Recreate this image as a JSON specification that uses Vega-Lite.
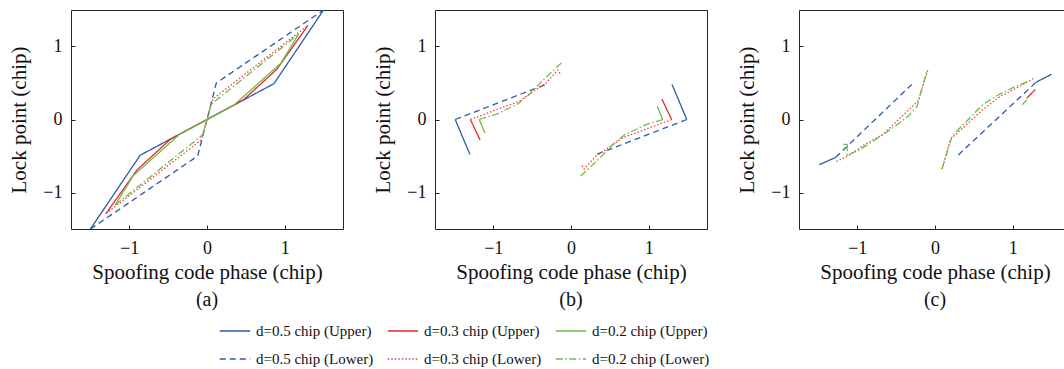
{
  "$schema": "https://vega.github.io/schema/vega-lite/v6.json",
  "padding": {"left": 8, "top": 9, "right": 0, "bottom": 0},
  "background": "white",
  "datasets": {
    "curves": [
      {"p":"a","s":"d=0.5 chip (Upper)","k":"a1","i":1,"x":-1.5,"y":-1.5},
      {"p":"a","s":"d=0.5 chip (Upper)","k":"a1","i":2,"x":-0.86,"y":-0.49},
      {"p":"a","s":"d=0.5 chip (Upper)","k":"a1","i":3,"x":0,"y":0},
      {"p":"a","s":"d=0.5 chip (Upper)","k":"a1","i":4,"x":0.86,"y":0.49},
      {"p":"a","s":"d=0.5 chip (Upper)","k":"a1","i":5,"x":1.5,"y":1.5},
      {"p":"a","s":"d=0.3 chip (Upper)","k":"a2","i":1,"x":-1.3,"y":-1.29},
      {"p":"a","s":"d=0.3 chip (Upper)","k":"a2","i":2,"x":-0.9,"y":-0.69},
      {"p":"a","s":"d=0.3 chip (Upper)","k":"a2","i":3,"x":-0.47,"y":-0.27},
      {"p":"a","s":"d=0.3 chip (Upper)","k":"a2","i":4,"x":0,"y":0},
      {"p":"a","s":"d=0.3 chip (Upper)","k":"a2","i":5,"x":0.47,"y":0.27},
      {"p":"a","s":"d=0.3 chip (Upper)","k":"a2","i":6,"x":0.9,"y":0.69},
      {"p":"a","s":"d=0.3 chip (Upper)","k":"a2","i":7,"x":1.3,"y":1.29},
      {"p":"a","s":"d=0.2 chip (Upper)","k":"a3","i":1,"x":-1.18,"y":-1.17},
      {"p":"a","s":"d=0.2 chip (Upper)","k":"a3","i":2,"x":-0.95,"y":-0.77},
      {"p":"a","s":"d=0.2 chip (Upper)","k":"a3","i":3,"x":-0.35,"y":-0.2},
      {"p":"a","s":"d=0.2 chip (Upper)","k":"a3","i":4,"x":0,"y":0},
      {"p":"a","s":"d=0.2 chip (Upper)","k":"a3","i":5,"x":0.35,"y":0.2},
      {"p":"a","s":"d=0.2 chip (Upper)","k":"a3","i":6,"x":0.95,"y":0.77},
      {"p":"a","s":"d=0.2 chip (Upper)","k":"a3","i":7,"x":1.18,"y":1.17},
      {"p":"a","s":"d=0.5 chip (Lower)","k":"a4","i":1,"x":-1.5,"y":-1.5},
      {"p":"a","s":"d=0.5 chip (Lower)","k":"a4","i":2,"x":-0.12,"y":-0.5},
      {"p":"a","s":"d=0.5 chip (Lower)","k":"a4","i":3,"x":0.12,"y":0.5},
      {"p":"a","s":"d=0.5 chip (Lower)","k":"a4","i":4,"x":1.5,"y":1.5},
      {"p":"a","s":"d=0.3 chip (Lower)","k":"a5","i":1,"x":-1.3,"y":-1.29},
      {"p":"a","s":"d=0.3 chip (Lower)","k":"a5","i":2,"x":-0.075,"y":-0.28},
      {"p":"a","s":"d=0.3 chip (Lower)","k":"a5","i":3,"x":0.075,"y":0.28},
      {"p":"a","s":"d=0.3 chip (Lower)","k":"a5","i":4,"x":1.3,"y":1.29},
      {"p":"a","s":"d=0.2 chip (Lower)","k":"a6","i":1,"x":-1.18,"y":-1.17},
      {"p":"a","s":"d=0.2 chip (Lower)","k":"a6","i":2,"x":-0.055,"y":-0.21},
      {"p":"a","s":"d=0.2 chip (Lower)","k":"a6","i":3,"x":0.055,"y":0.21},
      {"p":"a","s":"d=0.2 chip (Lower)","k":"a6","i":4,"x":1.18,"y":1.17},

      {"p":"b","s":"d=0.5 chip (Upper)","k":"b1","i":1,"x":-1.3,"y":-0.48},
      {"p":"b","s":"d=0.5 chip (Upper)","k":"b1","i":2,"x":-1.49,"y":0},
      {"p":"b","s":"d=0.5 chip (Upper)","k":"b1r","i":1,"x":1.3,"y":0.48},
      {"p":"b","s":"d=0.5 chip (Upper)","k":"b1r","i":2,"x":1.49,"y":0},
      {"p":"b","s":"d=0.3 chip (Upper)","k":"b2","i":1,"x":-1.17,"y":-0.28},
      {"p":"b","s":"d=0.3 chip (Upper)","k":"b2","i":2,"x":-1.295,"y":0},
      {"p":"b","s":"d=0.3 chip (Upper)","k":"b2r","i":1,"x":1.17,"y":0.28},
      {"p":"b","s":"d=0.3 chip (Upper)","k":"b2r","i":2,"x":1.295,"y":0},
      {"p":"b","s":"d=0.2 chip (Upper)","k":"b3","i":1,"x":-1.11,"y":-0.18},
      {"p":"b","s":"d=0.2 chip (Upper)","k":"b3","i":2,"x":-1.18,"y":0},
      {"p":"b","s":"d=0.2 chip (Upper)","k":"b3r","i":1,"x":1.11,"y":0.18},
      {"p":"b","s":"d=0.2 chip (Upper)","k":"b3r","i":2,"x":1.18,"y":0},
      {"p":"b","s":"d=0.5 chip (Lower)","k":"b4","i":1,"x":-1.49,"y":0},
      {"p":"b","s":"d=0.5 chip (Lower)","k":"b4","i":2,"x":-0.3,"y":0.49},
      {"p":"b","s":"d=0.5 chip (Lower)","k":"b4r","i":1,"x":1.49,"y":0},
      {"p":"b","s":"d=0.5 chip (Lower)","k":"b4r","i":2,"x":0.3,"y":-0.49},
      {"p":"b","s":"d=0.3 chip (Lower)","k":"b5","i":1,"x":-1.295,"y":0},
      {"p":"b","s":"d=0.3 chip (Lower)","k":"b5","i":2,"x":-1.01,"y":0.115},
      {"p":"b","s":"d=0.3 chip (Lower)","k":"b5","i":3,"x":-0.665,"y":0.25},
      {"p":"b","s":"d=0.3 chip (Lower)","k":"b5","i":4,"x":-0.515,"y":0.365},
      {"p":"b","s":"d=0.3 chip (Lower)","k":"b5","i":5,"x":-0.32,"y":0.5},
      {"p":"b","s":"d=0.3 chip (Lower)","k":"b5","i":6,"x":-0.17,"y":0.68},
      {"p":"b","s":"d=0.3 chip (Lower)","k":"b5","i":7,"x":-0.13,"y":0.61},
      {"p":"b","s":"d=0.3 chip (Lower)","k":"b5r","i":1,"x":1.295,"y":0},
      {"p":"b","s":"d=0.3 chip (Lower)","k":"b5r","i":2,"x":1.01,"y":-0.115},
      {"p":"b","s":"d=0.3 chip (Lower)","k":"b5r","i":3,"x":0.665,"y":-0.25},
      {"p":"b","s":"d=0.3 chip (Lower)","k":"b5r","i":4,"x":0.515,"y":-0.365},
      {"p":"b","s":"d=0.3 chip (Lower)","k":"b5r","i":5,"x":0.32,"y":-0.5},
      {"p":"b","s":"d=0.3 chip (Lower)","k":"b5r","i":6,"x":0.17,"y":-0.68},
      {"p":"b","s":"d=0.3 chip (Lower)","k":"b5r","i":7,"x":0.13,"y":-0.61},
      {"p":"b","s":"d=0.2 chip (Lower)","k":"b6","i":1,"x":-1.18,"y":0},
      {"p":"b","s":"d=0.2 chip (Lower)","k":"b6","i":2,"x":-0.965,"y":0.07},
      {"p":"b","s":"d=0.2 chip (Lower)","k":"b6","i":3,"x":-0.69,"y":0.21},
      {"p":"b","s":"d=0.2 chip (Lower)","k":"b6","i":4,"x":-0.54,"y":0.34},
      {"p":"b","s":"d=0.2 chip (Lower)","k":"b6","i":5,"x":-0.37,"y":0.53},
      {"p":"b","s":"d=0.2 chip (Lower)","k":"b6","i":6,"x":-0.11,"y":0.79},
      {"p":"b","s":"d=0.2 chip (Lower)","k":"b6r","i":1,"x":1.18,"y":0},
      {"p":"b","s":"d=0.2 chip (Lower)","k":"b6r","i":2,"x":0.965,"y":-0.07},
      {"p":"b","s":"d=0.2 chip (Lower)","k":"b6r","i":3,"x":0.69,"y":-0.21},
      {"p":"b","s":"d=0.2 chip (Lower)","k":"b6r","i":4,"x":0.54,"y":-0.34},
      {"p":"b","s":"d=0.2 chip (Lower)","k":"b6r","i":5,"x":0.37,"y":-0.53},
      {"p":"b","s":"d=0.2 chip (Lower)","k":"b6r","i":6,"x":0.11,"y":-0.79},

      {"p":"c","s":"d=0.5 chip (Upper)","k":"c1","i":1,"x":-1.49,"y":-0.62},
      {"p":"c","s":"d=0.5 chip (Upper)","k":"c1","i":2,"x":-1.28,"y":-0.52},
      {"p":"c","s":"d=0.5 chip (Upper)","k":"c1r","i":1,"x":1.3,"y":0.51},
      {"p":"c","s":"d=0.5 chip (Upper)","k":"c1r","i":2,"x":1.5,"y":0.62},
      {"p":"c","s":"d=0.3 chip (Upper)","k":"c2r","i":1,"x":1.18,"y":0.29},
      {"p":"c","s":"d=0.3 chip (Upper)","k":"c2r","i":2,"x":1.29,"y":0.41},
      {"p":"c","s":"d=0.2 chip (Upper)","k":"c3","i":1,"x":-1.18,"y":-0.34},
      {"p":"c","s":"d=0.2 chip (Upper)","k":"c3","i":2,"x":-1.13,"y":-0.34},
      {"p":"c","s":"d=0.2 chip (Upper)","k":"c3r","i":1,"x":1.12,"y":0.2},
      {"p":"c","s":"d=0.2 chip (Upper)","k":"c3r","i":2,"x":1.18,"y":0.27},
      {"p":"c","s":"d=0.5 chip (Lower)","k":"c4","i":1,"x":-1.28,"y":-0.52},
      {"p":"c","s":"d=0.5 chip (Lower)","k":"c4","i":2,"x":-0.3,"y":0.48},
      {"p":"c","s":"d=0.5 chip (Lower)","k":"c4r","i":1,"x":0.3,"y":-0.485},
      {"p":"c","s":"d=0.5 chip (Lower)","k":"c4r","i":2,"x":1.3,"y":0.51},
      {"p":"c","s":"d=0.3 chip (Lower)","k":"c5","i":1,"x":-1.27,"y":-0.575},
      {"p":"c","s":"d=0.3 chip (Lower)","k":"c5","i":2,"x":-1.12,"y":-0.5},
      {"p":"c","s":"d=0.3 chip (Lower)","k":"c5","i":3,"x":-0.9,"y":-0.34},
      {"p":"c","s":"d=0.3 chip (Lower)","k":"c5","i":4,"x":-0.66,"y":-0.2},
      {"p":"c","s":"d=0.3 chip (Lower)","k":"c5","i":5,"x":-0.47,"y":0},
      {"p":"c","s":"d=0.3 chip (Lower)","k":"c5","i":6,"x":-0.22,"y":0.25},
      {"p":"c","s":"d=0.3 chip (Lower)","k":"c5","i":7,"x":-0.09,"y":0.68},
      {"p":"c","s":"d=0.3 chip (Lower)","k":"c5r","i":1,"x":0.09,"y":-0.68},
      {"p":"c","s":"d=0.3 chip (Lower)","k":"c5r","i":2,"x":0.2,"y":-0.27},
      {"p":"c","s":"d=0.3 chip (Lower)","k":"c5r","i":3,"x":0.41,"y":-0.066},
      {"p":"c","s":"d=0.3 chip (Lower)","k":"c5r","i":4,"x":0.62,"y":0.14},
      {"p":"c","s":"d=0.3 chip (Lower)","k":"c5r","i":5,"x":0.83,"y":0.31},
      {"p":"c","s":"d=0.3 chip (Lower)","k":"c5r","i":6,"x":1.05,"y":0.43},
      {"p":"c","s":"d=0.3 chip (Lower)","k":"c5r","i":7,"x":1.29,"y":0.575},
      {"p":"c","s":"d=0.2 chip (Lower)","k":"c6","i":1,"x":-1.13,"y":-0.34},
      {"p":"c","s":"d=0.2 chip (Lower)","k":"c6","i":2,"x":-1.13,"y":-0.49},
      {"p":"c","s":"d=0.2 chip (Lower)","k":"c6","i":3,"x":-0.98,"y":-0.42},
      {"p":"c","s":"d=0.2 chip (Lower)","k":"c6","i":4,"x":-0.8,"y":-0.3},
      {"p":"c","s":"d=0.2 chip (Lower)","k":"c6","i":5,"x":-0.66,"y":-0.2},
      {"p":"c","s":"d=0.2 chip (Lower)","k":"c6","i":6,"x":-0.51,"y":-0.09},
      {"p":"c","s":"d=0.2 chip (Lower)","k":"c6","i":7,"x":-0.34,"y":0.05},
      {"p":"c","s":"d=0.2 chip (Lower)","k":"c6","i":8,"x":-0.23,"y":0.18},
      {"p":"c","s":"d=0.2 chip (Lower)","k":"c6","i":9,"x":-0.1,"y":0.685},
      {"p":"c","s":"d=0.2 chip (Lower)","k":"c6r","i":1,"x":0.09,"y":-0.68},
      {"p":"c","s":"d=0.2 chip (Lower)","k":"c6r","i":2,"x":0.22,"y":-0.225},
      {"p":"c","s":"d=0.2 chip (Lower)","k":"c6r","i":3,"x":0.41,"y":-0.02},
      {"p":"c","s":"d=0.2 chip (Lower)","k":"c6r","i":4,"x":0.62,"y":0.21},
      {"p":"c","s":"d=0.2 chip (Lower)","k":"c6r","i":5,"x":0.83,"y":0.345},
      {"p":"c","s":"d=0.2 chip (Lower)","k":"c6r","i":6,"x":1.05,"y":0.46},
      {"p":"c","s":"d=0.2 chip (Lower)","k":"c6r","i":7,"x":1.2,"y":0.52}
    ]
  },
  "data": {"name": "curves"},
  "spacing": 92,
  "bounds": "flush",
  "hconcat": [
    {
      "width": 272, "height": 219,
      "title": {"text": "(a)", "orient": "bottom"},
      "transform": [{"filter": "datum.p === 'a'"}],
      "mark": {"type": "line", "strokeWidth": 1.3, "clip": true},
      "encoding": {
        "x": {"field": "x", "type": "quantitative", "scale": {"domain": [-1.75, 1.75]}, "axis": {"values": [-1, 0, 1], "title": "Spoofing code phase (chip)"}},
        "y": {"field": "y", "type": "quantitative", "scale": {"domain": [-1.5, 1.5]}, "axis": {"values": [-1, 0, 1], "title": "Lock point (chip)"}},
        "color": {"field": "s", "type": "nominal", "scale": {"domain": ["d=0.5 chip (Upper)", "d=0.3 chip (Upper)", "d=0.2 chip (Upper)", "d=0.5 chip (Lower)", "d=0.3 chip (Lower)", "d=0.2 chip (Lower)"], "range": ["#2a5caa", "#e52b2b", "#6cbd45", "#2a5caa", "#f04040", "#6cbd45"]}, "legend": {"orient": "none", "legendX": 148, "legendY": 305, "columns": 3, "direction": "horizontal", "title": null, "symbolType": "stroke", "symbolSize": 930, "symbolStrokeWidth": 1.3, "labelFont": "Liberation Serif", "labelFontSize": 15, "labelColor": "#111", "columnPadding": 11, "rowPadding": 4, "labelOffset": 5, "padding": 0}},
        "strokeDash": {"field": "s", "type": "nominal", "scale": {"domain": ["d=0.5 chip (Upper)", "d=0.3 chip (Upper)", "d=0.2 chip (Upper)", "d=0.5 chip (Lower)", "d=0.3 chip (Lower)", "d=0.2 chip (Lower)"], "range": [[1, 0], [1, 0], [1, 0], [6, 4], [1.5, 2], [7, 2.5, 1.5, 2.5]]}, "legend": {"orient": "none", "legendX": 148, "legendY": 305, "columns": 3, "direction": "horizontal", "title": null, "symbolType": "stroke", "symbolSize": 930, "symbolStrokeWidth": 1.3, "labelFont": "Liberation Serif", "labelFontSize": 15, "labelColor": "#111", "columnPadding": 11, "rowPadding": 4, "labelOffset": 5, "padding": 0}},
        "detail": {"field": "k"},
        "order": {"field": "i"}
      }
    },
    {
      "width": 272, "height": 219,
      "title": {"text": "(b)", "orient": "bottom"},
      "transform": [{"filter": "datum.p === 'b'"}],
      "mark": {"type": "line", "strokeWidth": 1.3, "clip": true},
      "encoding": {
        "x": {"field": "x", "type": "quantitative", "scale": {"domain": [-1.75, 1.75]}, "axis": {"values": [-1, 0, 1], "title": "Spoofing code phase (chip)"}},
        "y": {"field": "y", "type": "quantitative", "scale": {"domain": [-1.5, 1.5]}, "axis": {"values": [-1, 0, 1], "title": "Lock point (chip)"}},
        "color": {"field": "s", "type": "nominal"},
        "strokeDash": {"field": "s", "type": "nominal"},
        "detail": {"field": "k"},
        "order": {"field": "i"}
      }
    },
    {
      "width": 272, "height": 219,
      "title": {"text": "(c)", "orient": "bottom"},
      "transform": [{"filter": "datum.p === 'c'"}],
      "mark": {"type": "line", "strokeWidth": 1.3, "clip": true},
      "encoding": {
        "x": {"field": "x", "type": "quantitative", "scale": {"domain": [-1.75, 1.75]}, "axis": {"values": [-1, 0, 1], "title": "Spoofing code phase (chip)"}},
        "y": {"field": "y", "type": "quantitative", "scale": {"domain": [-1.5, 1.5]}, "axis": {"values": [-1, 0, 1], "title": "Lock point (chip)"}},
        "color": {"field": "s", "type": "nominal"},
        "strokeDash": {"field": "s", "type": "nominal"},
        "detail": {"field": "k"},
        "order": {"field": "i"}
      }
    }
  ],
  "config": {
    "font": "Liberation Serif",
    "view": {"stroke": "#262626", "strokeWidth": 1},
    "axis": {
      "domain": false,
      "grid": false,
      "ticks": true,
      "tickSize": -4,
      "tickColor": "#262626",
      "labelFont": "Liberation Serif",
      "labelFontSize": 18,
      "labelColor": "#111",
      "titleFont": "Liberation Serif",
      "titleFontSize": 21,
      "titleFontWeight": "normal",
      "titleColor": "#111"
    },
    "axisX": {"labelPadding": 14, "titlePadding": 4},
    "axisY": {"labelPadding": 13, "titlePadding": 13},
    "title": {"font": "Liberation Serif", "fontSize": 20, "fontWeight": "normal", "color": "#111", "offset": 8}
  }
}
